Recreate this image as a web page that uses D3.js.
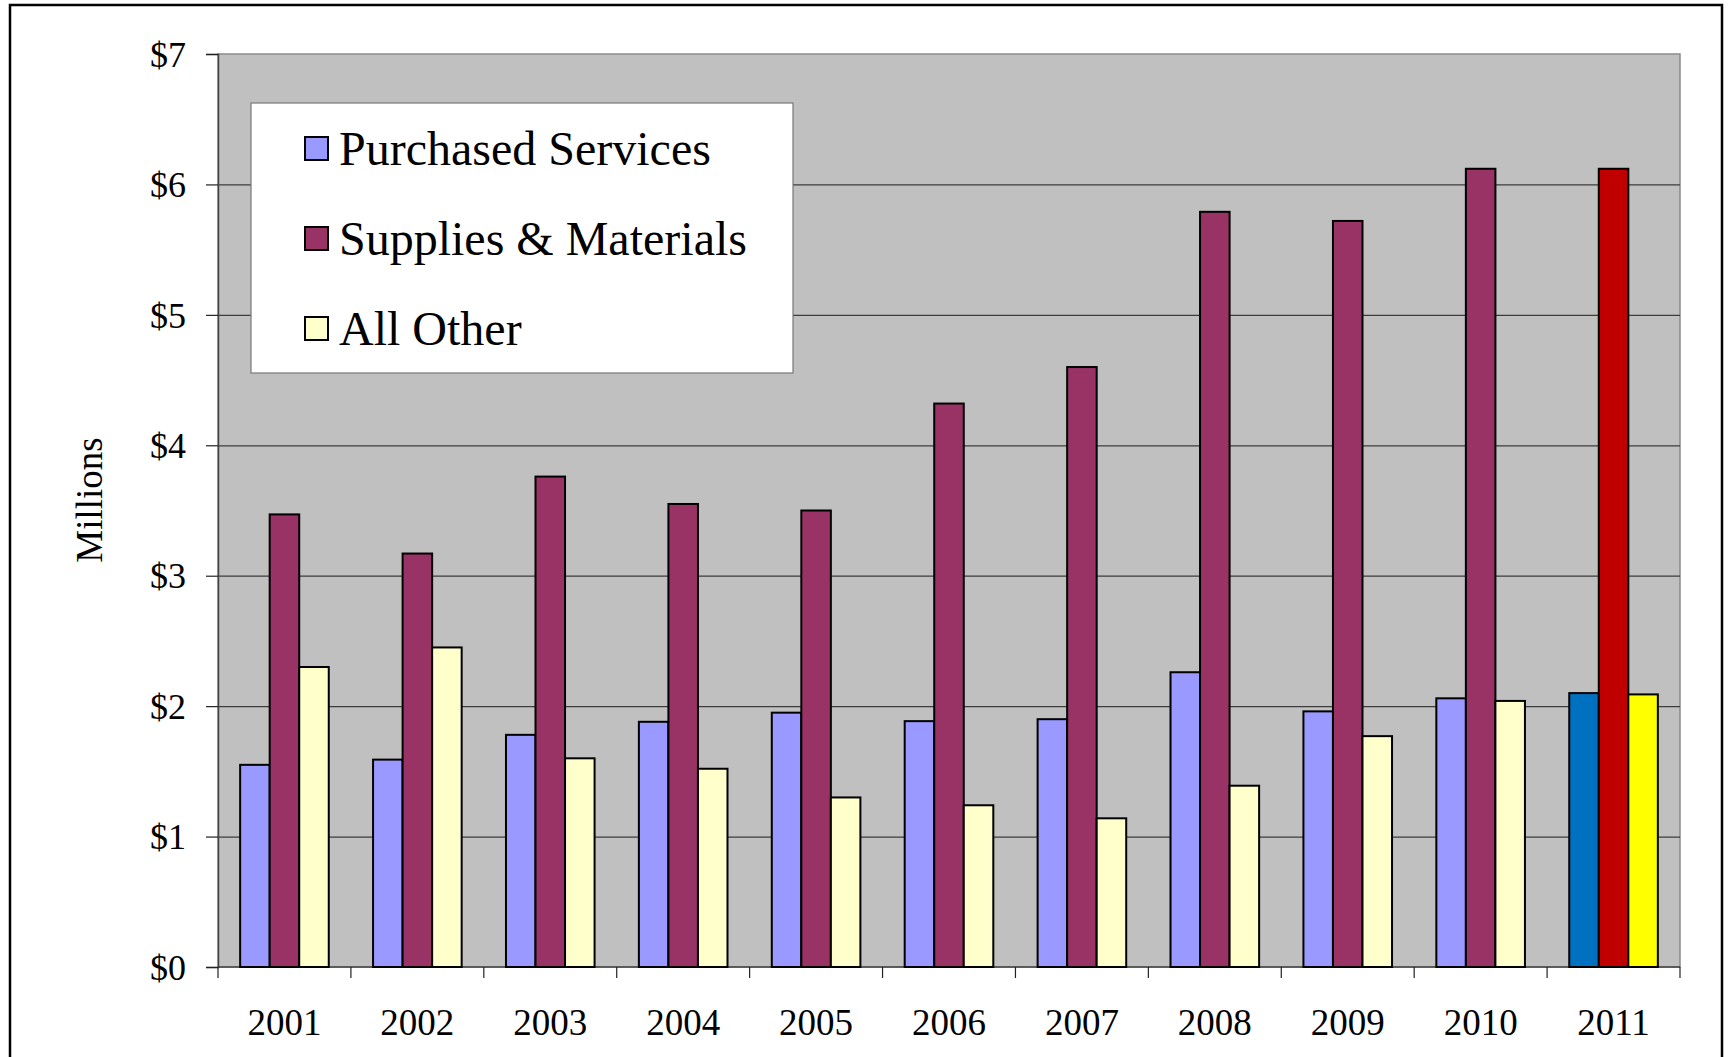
<!DOCTYPE html>
<html>
<head>
<meta charset="utf-8">
<script src="https://cdn.jsdelivr.net/npm/d3@7"></script>
<style>
  body { margin: 0; background: #fff; }
  svg { display: block; }
</style>
</head>
<body>
<div id="chart-container"></div>
<script>
// Chart data (millions of dollars)
var years = ["2001", "2002", "2003", "2004", "2005", "2006", "2007", "2008", "2009", "2010", "2011"];
var seriesNames = ["Purchased Services", "Supplies & Materials", "All Other"];
var purchasedServices = [1.55, 1.59, 1.78, 1.88, 1.95, 1.885, 1.90, 2.26, 1.96, 2.06, 2.10];
var suppliesMaterials = [3.47, 3.17, 3.76, 3.55, 3.50, 4.32, 4.60, 5.79, 5.72, 6.12, 6.12];
var allOther = [2.30, 2.45, 1.60, 1.52, 1.30, 1.24, 1.14, 1.39, 1.77, 2.04, 2.09];
var yTicks = [0, 1, 2, 3, 4, 5, 6, 7];

// Colours: normal years, and the highlighted last year
var seriesColors = ["#9999FF", "#993366", "#FFFFCC"];
var highlightColors = ["#0070C0", "#C00000", "#FFFF00"];

var width = 1729, height = 1057;
var plot = { left: 218, right: 1680, top: 54, bottom: 967 };
var fontFamily = "'Times New Roman', 'Liberation Serif', serif";

var svg = d3.select("#chart-container").append("svg")
  .attr("width", width)
  .attr("height", height);

// Outer frame
svg.append("rect")
  .attr("x", 10).attr("y", 5)
  .attr("width", 1712).attr("height", 1070)
  .attr("fill", "none")
  .attr("stroke", "#000")
  .attr("stroke-width", 2.5);

// Scales
var x0 = d3.scaleBand().domain(years).range([plot.left, plot.right]).padding(0);
var bw = x0.bandwidth();
var x1 = d3.scaleBand().domain(seriesNames).range([bw * 0.75 / 4.5, bw - bw * 0.75 / 4.5]).padding(0);
var y = d3.scaleLinear().domain([0, 7]).range([plot.bottom, plot.top]);

// Plot background
svg.append("rect")
  .attr("x", plot.left).attr("y", plot.top)
  .attr("width", plot.right - plot.left)
  .attr("height", plot.bottom - plot.top)
  .attr("fill", "#C0C0C0")
  .attr("stroke", "#8a8a8a")
  .attr("stroke-width", 1.5);

// Gridlines
svg.append("g")
  .selectAll("line")
  .data(yTicks.filter(d => d > 0 && d < 7))
  .join("line")
  .attr("x1", plot.left).attr("x2", plot.right)
  .attr("y1", d => y(d) + 0.5).attr("y2", d => y(d) + 0.5)
  .attr("stroke", "#3c3c3c")
  .attr("stroke-width", 1.2);

// Y axis
var yAxis = svg.append("g")
  .attr("transform", `translate(${plot.left},0)`)
  .call(d3.axisLeft(y).tickValues(yTicks).tickSize(12).tickPadding(20).tickFormat(d => "$" + d));
yAxis.select(".domain").attr("stroke", "#444").attr("stroke-width", 1.5);
yAxis.selectAll(".tick line").attr("stroke", "#222").attr("stroke-width", 1.2);
yAxis.selectAll("text")
  .attr("font-family", fontFamily)
  .attr("font-size", 36)
  .attr("fill", "#000")
  .attr("dy", "0.34em");

// X axis: ticks sit on the category boundaries
var xAxis = svg.append("g")
  .attr("transform", `translate(0,${plot.bottom})`);
xAxis.append("line")
  .attr("x1", plot.left).attr("x2", plot.right)
  .attr("y1", 0).attr("y2", 0)
  .attr("stroke", "#444").attr("stroke-width", 1.5);
xAxis.selectAll(".tk")
  .data(years.concat(["end"]))
  .join("line")
  .attr("class", "tk")
  .attr("x1", (d, i) => plot.left + i * bw).attr("x2", (d, i) => plot.left + i * bw)
  .attr("y1", 0).attr("y2", 11)
  .attr("stroke", "#222").attr("stroke-width", 1.2);
xAxis.selectAll("text")
  .data(years)
  .join("text")
  .attr("x", d => x0(d) + bw / 2)
  .attr("y", 68)
  .attr("text-anchor", "middle")
  .attr("font-family", fontFamily)
  .attr("font-size", 37)
  .text(d => d);

// Bars
var seriesValues = [purchasedServices, suppliesMaterials, allOther];
var barData = [];
years.forEach((yr, i) => {
  seriesNames.forEach((s, j) => {
    barData.push({ year: yr, series: s, idx: j, value: seriesValues[j][i] });
  });
});

svg.append("g")
  .selectAll("rect")
  .data(barData)
  .join("rect")
  .attr("x", d => x0(d.year) + x1(d.series))
  .attr("y", d => y(d.value))
  .attr("width", x1.bandwidth())
  .attr("height", d => y(0) - y(d.value))
  .attr("fill", d => d.year === "2011" ? highlightColors[d.idx] : seriesColors[d.idx])
  .attr("stroke", "#000")
  .attr("stroke-width", 2);

// Y axis title
svg.append("text")
  .attr("transform", "translate(102,500) rotate(-90)")
  .attr("text-anchor", "middle")
  .attr("font-family", fontFamily)
  .attr("font-size", 37)
  .text("Millions");

// Legend
var legend = svg.append("g");
legend.append("rect")
  .attr("x", 251).attr("y", 103)
  .attr("width", 542).attr("height", 270)
  .attr("fill", "#fff")
  .attr("stroke", "#777")
  .attr("stroke-width", 1.2);

var items = legend.selectAll("g.item")
  .data(seriesNames)
  .join("g")
  .attr("class", "item")
  .attr("transform", (d, i) => `translate(0,${i * 90})`);
items.append("rect")
  .attr("x", 305).attr("y", 137)
  .attr("width", 23).attr("height", 23)
  .attr("fill", (d, i) => seriesColors[i])
  .attr("stroke", "#000")
  .attr("stroke-width", 2);
items.append("text")
  .attr("x", 339).attr("y", 165)
  .attr("font-family", fontFamily)
  .attr("font-size", 48)
  .text(d => d);
</script>
</body>
</html>
